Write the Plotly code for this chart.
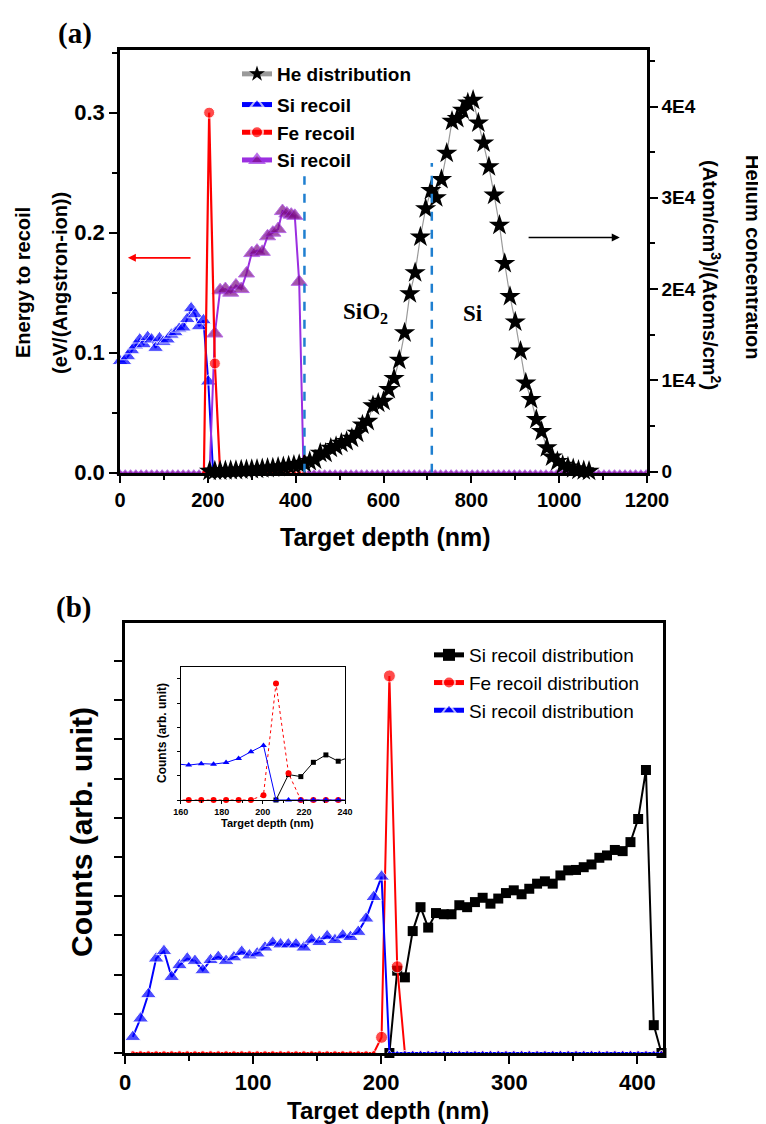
import plotly.graph_objects as go

# page body has an 8px margin: size the figure so it ends at the window edge
OFF = 8
W, H = 766 - OFF, 1124 - OFF
def px(x): return (x - OFF) / W
def py(y): return 1 - (y - OFF) / H

FONT = "Liberation Sans"
SERIF = "Liberation Serif"

# ---------------- Panel (a) data ----------------
he_depth_nm = list(range(204, 1069, 12))
he_conc_1e4 = [0.003, 0.005, 0.007, 0.009, 0.011, 0.013, 0.016, 0.019, 0.022, 0.026,
               0.03, 0.035, 0.04, 0.046, 0.053, 0.06, 0.068, 0.078, 0.09, 0.11, 0.128,
               0.2, 0.2, 0.256, 0.274, 0.31, 0.33, 0.365, 0.42, 0.51, 0.55, 0.72, 0.75, 0.77,
               0.9, 1.02, 1.22, 1.52, 1.95, 2.18, 2.57, 2.88, 3.08, 3.0, 3.2, 3.49, 3.84,
               3.87, 3.96, 4.04, 4.07,
               3.82, 3.6, 3.34, 3.03, 2.7, 2.28, 1.92, 1.64, 1.32, 0.97, 0.79, 0.57, 0.44,
               0.26, 0.16, 0.11, 0.07, 0.05, 0.03, 0.015, 0.008, 0.004]

si_ox_depth_nm = [0, 9, 18, 27, 36, 45, 54, 63, 72, 81, 90, 99, 108, 117, 126, 135, 144,
                  153, 162, 171, 180, 190, 201, 212]
si_ox_energy = [0.093, 0.093, 0.097, 0.102, 0.106, 0.111, 0.107, 0.113, 0.111, 0.104,
                0.112, 0.109, 0.111, 0.115, 0.117, 0.12, 0.121, 0.128, 0.137, 0.132,
                0.122, 0.127, 0.076, 0.0]

fe_depth_a_nm = [191, 203, 216] + list(range(228, 421, 12))
fe_energy_a = [0.0, 0.300, 0.091] + [0.0] * 17

si_si_depth_nm = (list(range(0, 205, 12))
                  + [216, 228, 240, 252, 264, 276, 288, 300, 312, 324, 336, 348, 360,
                     370, 380, 390, 398, 408, 418]
                  + list(range(430, 1201, 12)))
si_si_energy = ([0.0] * 18
                + [0.116, 0.152, 0.153, 0.150, 0.156, 0.153, 0.166, 0.183, 0.185, 0.184,
                   0.197, 0.200, 0.203, 0.218, 0.216, 0.215, 0.214, 0.159, 0.0]
                + [0.0] * 65)

# ---------------- Panel (b) data ----------------
depth_b_nm = [6.1, 12.1, 18.2, 24.3, 30.4, 36.4, 42.5, 48.6, 54.6, 60.7, 66.8, 72.8, 78.9,
              85.0, 91.1, 97.1, 103.2, 109.3, 115.3, 121.4, 127.5, 133.5, 139.6, 145.7,
              151.8, 157.8, 163.9, 170.0, 176.0, 182.1, 188.2, 194.2, 200.3, 206.4, 212.5,
              218.5, 224.6, 230.7, 236.7, 242.8, 248.9, 254.9, 261.0, 267.1, 273.2, 279.2,
              285.3, 291.4, 297.4, 303.5, 309.6, 315.6, 321.7, 327.8, 333.9, 339.9, 346.0,
              352.1, 358.1, 364.2, 370.3, 376.3, 382.4, 388.5, 394.6, 400.6, 406.7, 412.8,
              418.8]
si_sio2_counts = ([0.41, 0.88, 1.5, 2.41, 2.6, 1.94, 2.24, 2.41, 2.35, 2.11, 2.37, 2.45,
                   2.35, 2.44, 2.58, 2.49, 2.54, 2.69, 2.81, 2.77, 2.77, 2.77, 2.69, 2.89,
                   2.83, 2.98, 2.88, 3.0, 2.96, 3.09, 3.43, 3.98, 4.5]
                  + [0.0] * 36)
fe_counts = [0.0] * 32 + [0.4, 9.62, 2.2] + [0.0] * 34
si_si_depth_b = depth_b_nm[33:]
si_si_counts = [0.0, 2.1, 1.93, 3.11, 3.72, 3.2, 3.57, 3.54, 3.54, 3.77, 3.72, 3.85,
                3.96, 3.81, 3.94, 4.08, 4.15, 4.05, 4.19, 4.32, 4.38, 4.32, 4.53, 4.66,
                4.67, 4.74, 4.81, 4.98, 5.04, 5.18, 5.15, 5.38, 5.97, 7.22, 0.71, 0.0]

BLUE = "#0000ff"
RED = "#ff0000"
PURPLE_M = "#7d0f86"
PURPLE_L = "#9b2fe0"
DASH_BLUE = "#1f7fd0"

def sizes(vals, big, small):
    return [big if v > 0 else small for v in vals]

fig = go.Figure()

# ---- panel (a) traces ----
fig.add_trace(go.Scatter(
    x=he_depth_nm, y=he_conc_1e4, xaxis="x", yaxis="y2", mode="lines+markers",
    name="He distribution", legend="legend", legendgroup="he", legendrank=1,
    line=dict(color="#9a9a9a", width=1.2),
    marker=dict(symbol="star", size=16, color="black", line=dict(width=0)),
    cliponaxis=False))
fig.add_trace(go.Scatter(
    x=si_ox_depth_nm, y=si_ox_energy, xaxis="x", yaxis="y", mode="lines+markers",
    name="Si recoil", legend="legend", legendgroup="rec", legendrank=2,
    line=dict(color=BLUE, width=2),
    marker=dict(symbol="triangle-up", size=sizes(si_ox_energy, 14, 5), color=BLUE),
    cliponaxis=False))
fig.add_trace(go.Scatter(
    x=si_si_depth_nm, y=si_si_energy, xaxis="x", yaxis="y", mode="lines+markers",
    name="Si recoil", legend="legend", legendgroup="rec", legendrank=4,
    line=dict(color=PURPLE_L, width=2),
    marker=dict(symbol="triangle-up", size=sizes(si_si_energy, 14, 6), color=PURPLE_M),
    cliponaxis=False))
fig.add_trace(go.Scatter(
    x=fe_depth_a_nm, y=fe_energy_a, xaxis="x", yaxis="y", mode="lines+markers",
    name="Fe recoil", legend="legend", legendgroup="rec", legendrank=3,
    line=dict(color=RED, width=2.2),
    marker=dict(symbol="circle", size=sizes(fe_energy_a, 11, 5), color=RED),
    cliponaxis=False))

# ---- panel (b) traces ----
fig.add_trace(go.Scatter(
    x=si_si_depth_b, y=si_si_counts, xaxis="x2", yaxis="y3", mode="lines+markers",
    name="Si recoil distribution", legend="legend2",
    line=dict(color="black", width=2),
    marker=dict(symbol="square", size=10, color="black"), cliponaxis=False))
fig.add_trace(go.Scatter(
    x=depth_b_nm, y=fe_counts, xaxis="x2", yaxis="y3", mode="lines+markers",
    name="Fe recoil distribution", legend="legend2",
    line=dict(color=RED, width=2),
    marker=dict(symbol="circle", size=sizes(fe_counts, 12, 5), color=RED), cliponaxis=False))
fig.add_trace(go.Scatter(
    x=depth_b_nm, y=si_sio2_counts, xaxis="x2", yaxis="y3", mode="lines+markers",
    name="Si recoil distribution", legend="legend2",
    line=dict(color=BLUE, width=2),
    marker=dict(symbol="triangle-up", size=sizes(si_sio2_counts, 14, 6), color=BLUE),
    cliponaxis=False))

# ---- inset traces ----
def win(xs, ys, lo=159, hi=241):
    pts = [(a, b) for a, b in zip(xs, ys) if lo <= a <= hi]
    return [p[0] for p in pts], [p[1] for p in pts]

for xs, ys, col, sym, msz, dash in [
        (si_si_depth_b, si_si_counts, "black", "square", 5, "solid"),
        (depth_b_nm, fe_counts, RED, "circle", 6, "dot"),
        (depth_b_nm, si_sio2_counts, BLUE, "triangle-up", 6, "solid")]:
    fig.add_trace(go.Scatter(x=xs, y=ys, xaxis="x3", yaxis="y4", mode="lines",
                             line=dict(color=col, width=1, dash=dash), showlegend=False))
    wx, wy = win(xs, ys)
    fig.add_trace(go.Scatter(x=wx, y=wy, xaxis="x3", yaxis="y4", mode="markers",
                             marker=dict(symbol=sym, size=msz, color=col),
                             showlegend=False, cliponaxis=False))

axis_common = dict(showline=True, linecolor="black", showgrid=False, zeroline=False,
                   ticks="outside", tickcolor="black", automargin=False)

fig.update_layout(
    width=W, height=H, margin=dict(l=0, r=0, t=0, b=0, autoexpand=False),
    paper_bgcolor="white", plot_bgcolor="white",
    font=dict(family=FONT, color="black"),
    xaxis=dict(**axis_common, domain=[px(120), px(647)], range=[0, 1200], anchor="y",
               dtick=200, tick0=0, ticklen=8, tickwidth=2, linewidth=2.5, mirror=True,
               minor=dict(dtick=100, ticks="outside", ticklen=5, tickwidth=2, tickcolor="black"),
               tickfont=dict(size=20, family=FONT, weight="bold")),
    yaxis=dict(**axis_common, domain=[py(472.7), py(50)], range=[0, 0.3522], anchor="x",
               dtick=0.1, tick0=0, tickformat=".1f", ticklen=8, tickwidth=2, linewidth=2.5,
               minor=dict(dtick=0.05, ticks="outside", ticklen=5, tickwidth=2, tickcolor="black"),
               tickfont=dict(size=22, family=FONT, weight="bold")),
    yaxis2=dict(**axis_common, overlaying="y", side="right", anchor="x",
                range=[-0.013, 4.62], tickvals=[0, 1, 2, 3, 4],
                ticktext=["0", "1E4", "2E4", "3E4", "4E4"], ticklen=8, tickwidth=2,
                linewidth=2.5,
                minor=dict(dtick=0.5, ticks="outside", ticklen=5, tickwidth=2, tickcolor="black"),
                tickfont=dict(size=19, family=FONT, weight="bold")),
    xaxis2=dict(**axis_common, domain=[px(125), px(663)], range=[0, 420], anchor="y3",
                dtick=100, tick0=0, ticklen=8, tickwidth=2, linewidth=2.5, mirror=True,
                minor=dict(dtick=50, ticks="outside", ticklen=5, tickwidth=2, tickcolor="black"),
                tickfont=dict(size=22, family=FONT, weight="bold")),
    yaxis3=dict(**axis_common, domain=[py(1053), py(623)], range=[0, 10.97], anchor="x2",
                dtick=1, tick0=0, showticklabels=False, ticklen=8, tickwidth=2,
                linewidth=2.5, mirror=True),
    xaxis3=dict(**axis_common, domain=[px(180.7), px(345)], range=[160, 240], anchor="y4",
                dtick=20, tick0=160, ticklen=3, tickwidth=1, linewidth=1, mirror=True,
                minor=dict(dtick=10, ticks="outside", ticklen=2, tickcolor="black"),
                tickfont=dict(size=9, family=FONT, weight="bold")),
    yaxis4=dict(**axis_common, domain=[py(800), py(666.7)], range=[0, 11], anchor="x3",
                dtick=2, tick0=0, showticklabels=False, ticklen=3, tickwidth=1,
                linewidth=1, mirror=True),
    legend=dict(x=px(237), y=py(55), xanchor="left", yanchor="top",
                bgcolor="rgba(0,0,0,0)", traceorder="grouped", tracegroupgap=3,
                font=dict(size=19, family=FONT, weight="bold"), itemsizing="constant"),
    legend2=dict(x=px(429), y=py(636), xanchor="left", yanchor="top",
                 bgcolor="rgba(0,0,0,0)", tracegroupgap=0,
                 font=dict(size=19, family=FONT), itemsizing="constant"),
)

# dashed interface lines
for xd, ytop in [(420, 0.247), (710, 0.258)]:
    fig.add_shape(type="line", xref="x", yref="y", x0=xd, x1=xd, y0=0, y1=ytop,
                  line=dict(color=DASH_BLUE, width=2.5, dash="dash"))

ann = []
def txt(x, y, s, size, angle=0, family=FONT, bold=True):
    ann.append(dict(xref="paper", yref="paper", x=px(x), y=py(y), text=s,
                    showarrow=False, textangle=angle, xanchor="center", yanchor="middle",
                    font=dict(size=size, family=family, color="black",
                              weight="bold" if bold else "normal")))

txt(75, 33, "(a)", 29, family=SERIF)
txt(73, 607, "(b)", 29, family=SERIF)
txt(23, 283, "Energy to recoil", 20, angle=-90)
txt(60, 283, "(eV/(Angstron-ion))", 20, angle=-90)
txt(753, 257, "Helium concentration", 20, angle=90)
txt(712, 275, "(Atom/cm<sup>3</sup>)/(Atoms/cm<sup>2</sup>)", 20, angle=90)
txt(385, 537, "Target depth (nm)", 25)
txt(388, 1110, "Target depth (nm)", 24)
txt(81, 832, "Counts (arb. unit)", 30, angle=-90)
txt(267, 823, "Target depth (nm)", 11)
txt(162, 733, "Counts (arb. unit)", 12, angle=-90)

ann.append(dict(xref="x", yref="y", x=558, y=0.133, text="SiO<sub>2</sub>", showarrow=False,
                font=dict(size=23, family=SERIF, color="black", weight="bold")))
ann.append(dict(xref="x", yref="y", x=804, y=0.133, text="Si", showarrow=False,
                font=dict(size=23, family=SERIF, color="black", weight="bold")))
# arrows
ann.append(dict(xref="x", yref="y", axref="x", ayref="y", x=18, y=0.179, ax=164, ay=0.179,
                text="", showarrow=True, arrowhead=2, arrowsize=1, arrowwidth=1.6,
                arrowcolor=RED))
ann.append(dict(xref="x", yref="y", axref="x", ayref="y", x=1138, y=0.196, ax=927, ay=0.196,
                text="", showarrow=True, arrowhead=2, arrowsize=1, arrowwidth=1.6,
                arrowcolor="black"))
fig.update_layout(annotations=ann)

fig.write_html("out.html")
